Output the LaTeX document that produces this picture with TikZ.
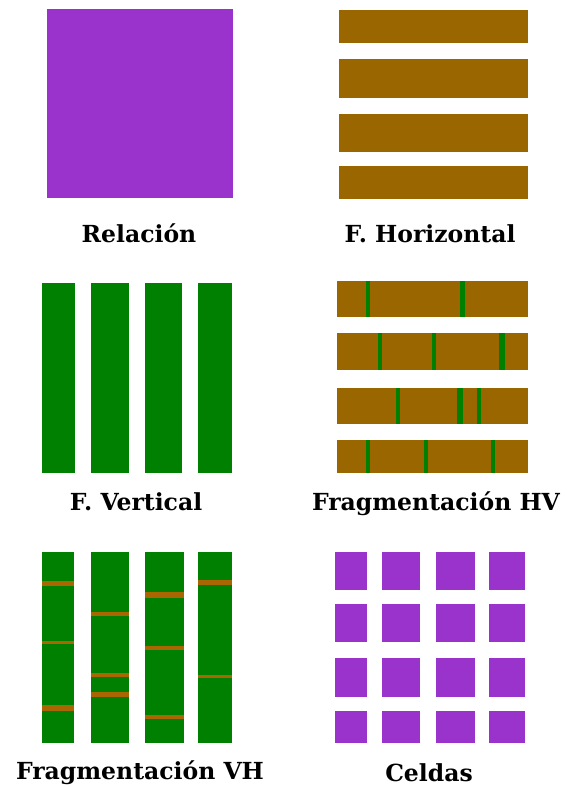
\documentclass[tikz,border=0pt]{standalone}
\usepackage{fontspec}
\setmainfont{DejaVu Serif}
\usepackage{tikz}
\definecolor{ColRel}{RGB}{153,51,204}
\definecolor{ColHor}{RGB}{153,102,0}
\definecolor{ColVer}{RGB}{0,128,0}
\definecolor{ColCut}{RGB}{170,102,0}

\begin{document}
\begin{tikzpicture}[
  x=1pt, y=-1pt,
  every node/.style={font=\fontsize{23.5}{28}\selectfont\bfseries, inner sep=0pt, anchor=base},
  rel/.style={fill=ColRel},
  hor/.style={fill=ColHor},
  ver/.style={fill=ColVer}
]
  \useasboundingbox (0,0) rectangle (566,787);

  % Whole relation
  \fill[rel] (47,9) rectangle (233,198);
  \node (relacion) at (139,242) {Relación};

  % Horizontal fragments
  \foreach \ya/\yb in {10/43, 59/98, 114/152, 166/199}
    \fill[hor] (339,\ya) rectangle (528,\yb);
  \node (horizontal) at (430,242) {F. Horizontal};

  % Vertical fragments
  \foreach \xa/\xb in {42/75, 91/129, 145/182, 198/232}
    \fill[ver] (\xa,283) rectangle (\xb,473);
  \node (vertical) at (136,510) {F. Vertical};

  % Horizontal fragments, then cut vertically
  \foreach \ya/\yb/\cuts in {281/317/{366/370,460/465},
                             333/370/{378/382,432/436,499/505},
                             388/424/{396/400,457/463,477/481},
                             440/473/{366/370,424/428,491/495}}{
    \fill[hor] (337,\ya) rectangle (528,\yb);
    \foreach \ca/\cb in \cuts
      \fill[ver] (\ca,\ya) rectangle (\cb,\yb);
  }
  \node (fraghv) at (436,510) {Fragmentación HV};

  % Vertical fragments, then cut horizontally
  \foreach \xa/\xb/\cuts in {42/74/{581/586,641/644,705/711},
                             91/129/{612/616,673/677,692/697},
                             145/184/{592/598,646/650,715/719},
                             198/232/{580/585,675/678}}{
    \fill[ver] (\xa,552) rectangle (\xb,743);
    \foreach \ca/\cb in \cuts
      \fill[fill=ColCut] (\xa,\ca) rectangle (\xb,\cb);
  }
  \node (fragvh) at (140,779) {Fragmentación VH};

  % Cells
  \foreach \xa/\xb in {335/367, 382/420, 436/475, 489/525}
    \foreach \ya/\yb in {552/590, 604/642, 658/697, 711/743}
      \fill[rel] (\xa,\ya) rectangle (\xb,\yb);
  \node (celdas) at (429,781) {Celdas};
\end{tikzpicture}
\end{document}
